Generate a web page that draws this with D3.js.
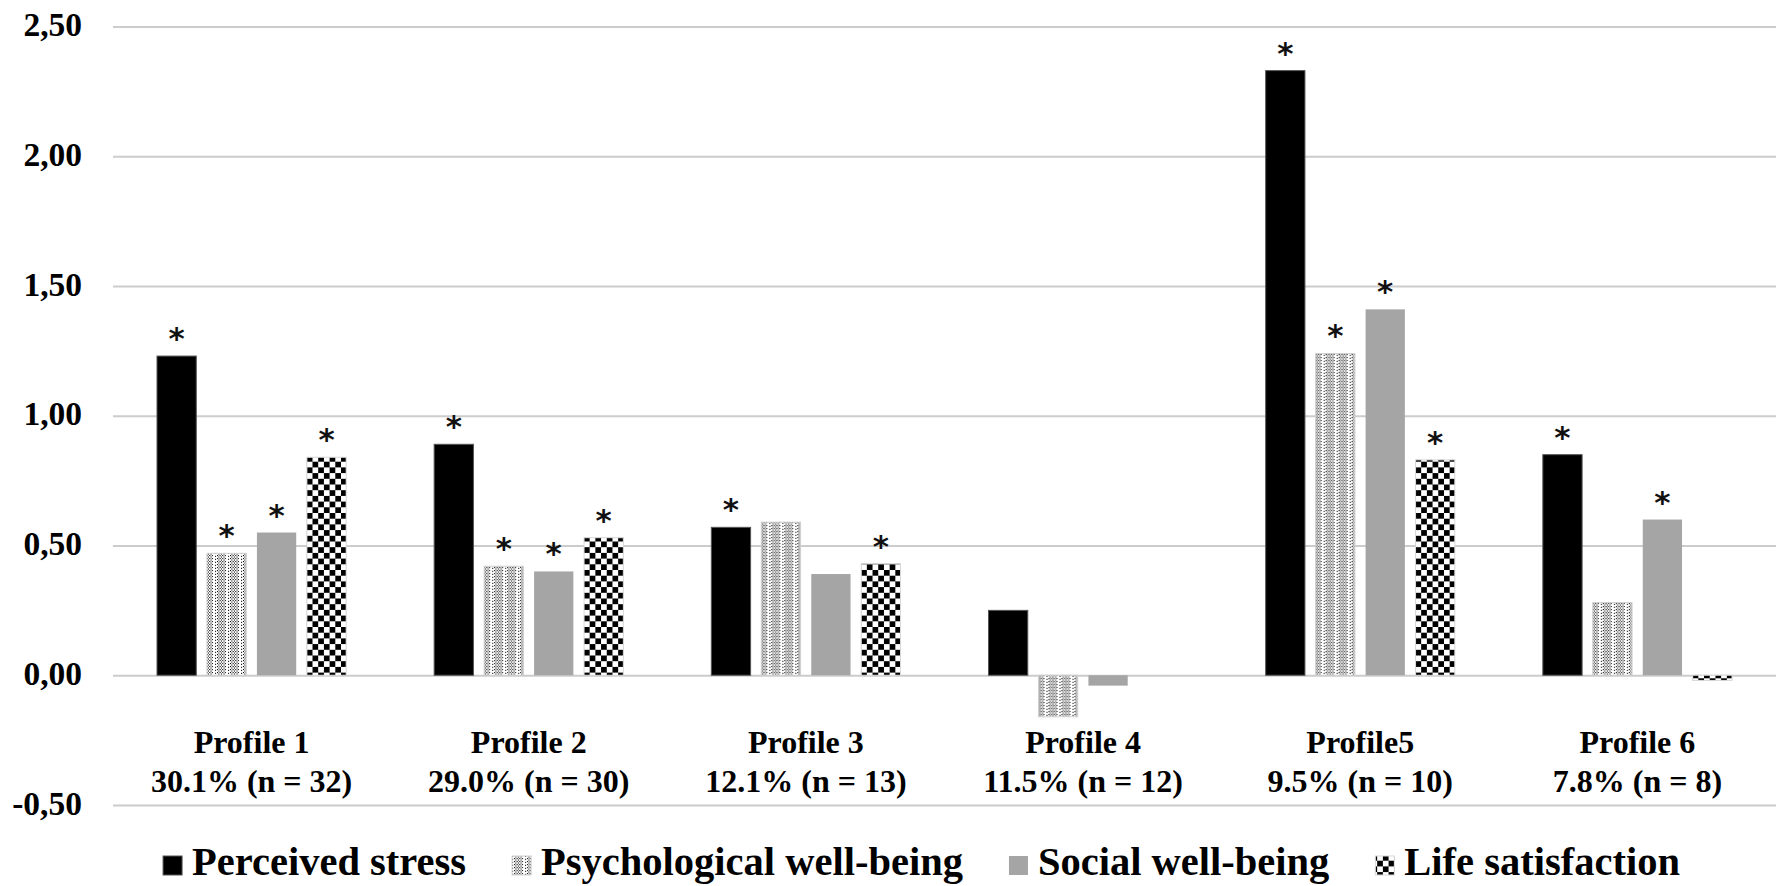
<!DOCTYPE html>
<html>
<head>
<meta charset="utf-8">
<script src="https://cdn.jsdelivr.net/npm/d3@7"></script>
<style>
  html, body { margin: 0; padding: 0; background: #fff; }
  svg { display: block; }
</style>
</head>
<body>
<svg id="chart" width="1776" height="886"></svg>
<script>
// ---- data ----
const profiles = ["Profile 1", "Profile 2", "Profile 3", "Profile 4", "Profile5", "Profile 6"];
const profileInfo = ["30.1% (n = 32)", "29.0% (n = 30)", "12.1% (n = 13)", "11.5% (n = 12)", "9.5% (n = 10)", "7.8% (n = 8)"];
const seriesNames = ["Perceived stress", "Psychological well-being", "Social well-being", "Life satisfaction"];
const perceivedStress = [1.23, 0.89, 0.57, 0.25, 2.33, 0.85];
const psychWellBeing = [0.47, 0.42, 0.59, -0.16, 1.24, 0.28];
const socialWellBeing = [0.55, 0.40, 0.39, -0.04, 1.41, 0.60];
const lifeSatisfaction = [0.84, 0.53, 0.43, 0.00, 0.83, -0.02];
const sigStress = [1, 1, 1, 0, 1, 1];
const sigPsych = [1, 1, 0, 0, 1, 0];
const sigSocial = [1, 1, 0, 0, 1, 1];
const sigLife = [1, 1, 1, 0, 1, 0];
const yTicks = [-0.5, 0, 0.5, 1.0, 1.5, 2.0, 2.5];

const seriesValues = [perceivedStress, psychWellBeing, socialWellBeing, lifeSatisfaction];
const seriesSig = [sigStress, sigPsych, sigSocial, sigLife];

// ---- layout ----
const W = 1776, H = 886;
const plotLeft = 113, plotRight = 1776, plotTop = 26.5, plotBottom = 805;
const svg = d3.select("#chart");

const defs = svg.append("defs");
// dotted pattern (psychological well-being)
const pd = defs.append("pattern").attr("id", "dots").attr("patternUnits", "userSpaceOnUse")
  .attr("width", 13).attr("height", 3);
pd.append("rect").attr("width", 13).attr("height", 3).attr("fill", "#fff");
[[0,0],[2.6,0],[5.2,0],[7.8,0],[1.3,1.5],[3.9,1.5],[6.5,1.5],[11,0.8]].forEach(([x,y]) => {
  pd.append("rect").attr("x", x).attr("y", y).attr("width", 1.1).attr("height", 1.1).attr("fill", "#111");
});
// checker pattern (life satisfaction)
const cs = 5.7;
const pc = defs.append("pattern").attr("id", "checker").attr("patternUnits", "userSpaceOnUse")
  .attr("width", cs * 2).attr("height", cs * 2);
pc.append("rect").attr("width", cs * 2).attr("height", cs * 2).attr("fill", "#fff");
pc.append("rect").attr("width", cs).attr("height", cs).attr("fill", "#000");
pc.append("rect").attr("x", cs).attr("y", cs).attr("width", cs).attr("height", cs).attr("fill", "#000");

const fills = ["#000000", "url(#dots)", "#a5a5a5", "url(#checker)"];
const strokes = ["#555", "#cfcfcf", "none", "#d8d8d8"];

const x0 = d3.scaleBand().domain(profiles).range([plotLeft, plotRight]).paddingInner(0).paddingOuter(0);
const groupPad = 44;
const x1 = d3.scaleBand().domain(seriesNames).range([groupPad, x0.bandwidth() - groupPad]).paddingInner(0.214).paddingOuter(0);
const y = d3.scaleLinear().domain([-0.5, 2.5]).range([plotBottom, plotTop]);

// gridlines
const yAxis = d3.axisLeft(y).tickValues(yTicks).tickSize(-(plotRight - plotLeft))
  .tickFormat(d => d3.format(".2f")(d).replace(".", ",").replace("−", "-"));
const gAxis = svg.append("g").attr("transform", `translate(${plotLeft},0)`).call(yAxis);
gAxis.select(".domain").remove();
gAxis.selectAll(".tick line").attr("stroke", "#cccccc").attr("stroke-width", 2);
gAxis.selectAll(".tick text")
  .attr("x", -31).attr("dy", "9.2").attr("text-anchor", "end")
  .style("font-family", "'Liberation Serif', 'Times New Roman', serif")
  .style("font-weight", "bold").style("font-size", "33.5px").attr("fill", "#000");

// bars
const groups = svg.append("g").selectAll("g").data(profiles).join("g")
  .attr("transform", d => `translate(${x0(d)},0)`);

seriesNames.forEach((s, si) => {
  groups.append("rect")
    .attr("x", x1(s))
    .attr("width", x1.bandwidth())
    .attr("y", (d, i) => y(Math.max(0, seriesValues[si][i])))
    .attr("height", (d, i) => Math.abs(y(seriesValues[si][i]) - y(0)))
    .attr("fill", fills[si])
    .attr("stroke", strokes[si])
    .attr("stroke-width", 1);
  groups.filter((d, i) => seriesSig[si][i])
    .append("text")
    .attr("x", x1(s) + x1.bandwidth() / 2)
    .attr("y", (d) => y(seriesValues[si][profiles.indexOf(d)]) - 7)
    .attr("text-anchor", "middle")
    .style("font-family", "'DejaVu Sans', sans-serif")
    .style("font-weight", "bold")
    .style("font-size", "31px")
    .attr("fill", "#111")
    .text("*");
});

// category labels
const catG = svg.append("g");
profiles.forEach((p, i) => {
  const cx = x0(p) + x0.bandwidth() / 2;
  const t = catG.append("text").attr("text-anchor", "middle")
    .style("font-family", "'Liberation Serif', 'Times New Roman', serif")
    .style("font-weight", "bold").style("font-size", "32px").attr("fill", "#000");
  t.append("tspan").attr("x", cx).attr("y", 753).text(p);
  t.append("tspan").attr("x", cx).attr("y", 792).text(profileInfo[i]);
});

// legend
const legG = svg.append("g");
const mSize = 19, mGap = 10, itemGap = 46, legBase = 875;
let cursor = 0;
seriesNames.forEach((s, si) => {
  const g = legG.append("g");
  g.append("rect").attr("x", cursor).attr("y", legBase - mSize).attr("width", mSize).attr("height", mSize)
    .attr("fill", fills[si]).attr("stroke", strokes[si] === "none" ? "none" : strokes[si]).attr("stroke-width", 1);
  const t = g.append("text").attr("x", cursor + mSize + mGap).attr("y", legBase)
    .style("font-family", "'Liberation Serif', 'Times New Roman', serif")
    .style("font-weight", "bold").style("font-size", "40.5px").attr("fill", "#000").text(s);
  const w = t.node().getComputedTextLength();
  cursor += mSize + mGap + w + itemGap;
});
const totalW = cursor - itemGap;
legG.attr("transform", `translate(${921.5 - totalW / 2},0)`);
</script>
</body>
</html>
